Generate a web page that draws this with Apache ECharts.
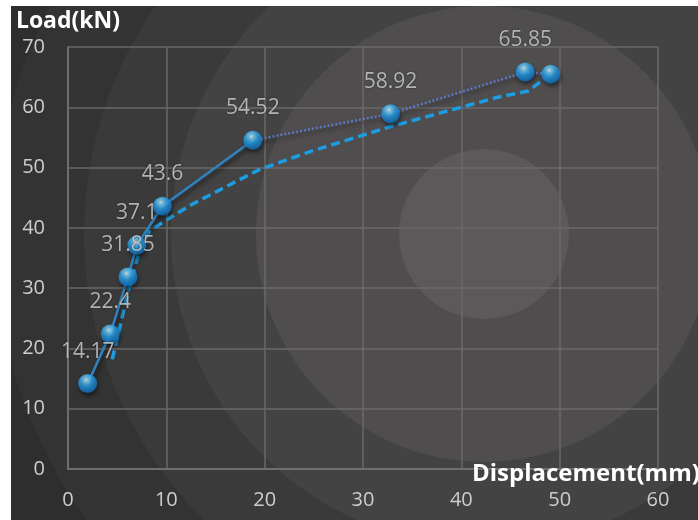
<!DOCTYPE html>
<html>
<head>
<meta charset="utf-8">
<script src="https://cdn.jsdelivr.net/npm/echarts@6/dist/echarts.min.js"></script>
<style>
  html, body { margin: 0; padding: 0; background: #ffffff; width: 698px; height: 520px; overflow: hidden; }
  #chart { position: absolute; left: 11px; top: 6px; width: 687px; height: 514px; }
</style>
</head>
<body>
<div id="chart"></div>
<script>
// Solid curve with markers (displacement mm, load kN)
const dispA = [2.0, 4.3, 6.1, 7.0, 9.6, 18.8, 32.8, 46.5, 49.1];
const loadA = [14.17, 22.4, 31.85, 37.1, 43.6, 54.52, 58.92, 65.85, 65.5];
const pointLabels = ['14.17', '22.4', '31.85', '37.1', '43.6', '54.52', '58.92', '65.85', ''];
// Dashed curve
const dispB = [4.5, 5.2, 5.8, 6.5, 7.2, 8.3, 10.0, 12.5, 16.5, 19.5, 24.9, 32.8, 38.4, 43.8, 46.8, 49.1];
const loadB = [18.2, 23.0, 27.3, 31.7, 35.8, 39.5, 41.3, 43.8, 47.2, 49.7, 52.8, 56.8, 59.3, 61.7, 62.7, 65.5];
// Axis ranges
const xRange = [0, 60, 10];
const yRange = [0, 70, 10];
const xTitle = 'Displacement(mm)';
const yTitle = 'Load(kN)';

const pairs = (xs, ys) => xs.map((x, i) => [x, ys[i]]);
const ptsA = pairs(dispA, loadA);
const ptsB = pairs(dispB, loadB);

const chart = echarts.init(document.getElementById('chart'), null, { renderer: 'canvas' });
const FONT = '"Open Sans", "DejaVu Sans", sans-serif';
const cx = 473, cy = 228;
const bands = [
  [560, '#2e2e2e'], [490, '#333333'], [400, '#3b3a3a'], [313, '#444343'], [228, '#4f4d4d'], [85, '#5b5959']
];

const bgCircles = bands.map(([r, c]) => ({
  type: 'circle', z: -10, silent: true,
  shape: { cx: cx, cy: cy, r: r },
  style: { fill: c }
}));

const option = {
  backgroundColor: '#272727',
  animation: false,
  graphic: bgCircles.concat([{
    type: 'text', z: 50, silent: true, x: 461, y: 468,
    style: {
      text: xTitle, fill: '#ffffff', font: 'bold 24px "Open Sans", "DejaVu Sans", sans-serif',
      align: 'left', verticalAlign: 'middle'
    }
  }]),
  grid: { left: 57, right: 40, top: 41, bottom: 51, containLabel: false },
  xAxis: {
    type: 'value', min: xRange[0], max: xRange[1], interval: xRange[2],
    axisLine: { show: true, lineStyle: { color: '#757373', width: 1.5 } },
    axisTick: { show: false },
    axisLabel: { color: '#cdcdcd', fontFamily: FONT, fontSize: 20, margin: 21 },
    splitLine: { show: true, lineStyle: { color: '#6a6868', width: 1.5 } }
  },
  yAxis: {
    type: 'value', min: yRange[0], max: yRange[1], interval: yRange[2],
    name: yTitle, nameLocation: 'end', nameGap: 26,
    nameTextStyle: { color: '#ffffff', fontFamily: FONT, fontWeight: 'bold', fontSize: 23, align: 'center', verticalAlign: 'middle' },
    axisLine: { show: true, lineStyle: { color: '#757373', width: 1.5 } },
    axisTick: { show: false },
    axisLabel: { color: '#cdcdcd', fontFamily: FONT, fontSize: 20, margin: 23 },
    splitLine: { show: true, lineStyle: { color: '#6a6868', width: 1.5 } }
  },
  series: [
    {
      type: 'line', data: ptsB, showSymbol: false, z: 2,
      lineStyle: { color: '#1c9de2', width: 3.5, type: [9, 5] }
    },
    {
      type: 'line', data: ptsA.slice(0, 6), showSymbol: false, z: 3,
      lineStyle: { color: '#2f82bd', width: 2.5, shadowColor: 'rgba(0,0,0,0.55)', shadowBlur: 4, shadowOffsetX: 2, shadowOffsetY: 3 }
    },
    {
      type: 'line', data: ptsA.slice(5), showSymbol: false, z: 3,
      lineStyle: { color: '#5d78c2', width: 2.5, type: [2, 2], shadowColor: 'rgba(0,0,0,0.55)', shadowBlur: 4, shadowOffsetX: 2, shadowOffsetY: 3 }
    },
    {
      type: 'scatter', data: ptsA, symbol: 'circle', symbolSize: 19, z: 5,
      itemStyle: {
        color: {
          type: 'radial', x: 0.42, y: 0.3, r: 0.75,
          colorStops: [
            { offset: 0, color: '#ffffff' },
            { offset: 0.15, color: '#86d9ff' },
            { offset: 0.45, color: '#2aa2ea' },
            { offset: 0.85, color: '#1274c4' },
            { offset: 1, color: '#0b5898' }
          ]
        },
        shadowColor: 'rgba(0,0,0,0.6)', shadowBlur: 4, shadowOffsetX: 1, shadowOffsetY: 3
      },
      label: {
        show: true, position: 'top', distance: 12,
        formatter: (p) => pointLabels[p.dataIndex],
        color: '#d4d4d4', fontFamily: FONT, fontSize: 21,
        textShadowColor: 'rgba(0,0,0,0.6)', textShadowBlur: 2
      }
    }
  ]
};
chart.setOption(option);
</script>
</body>
</html>
